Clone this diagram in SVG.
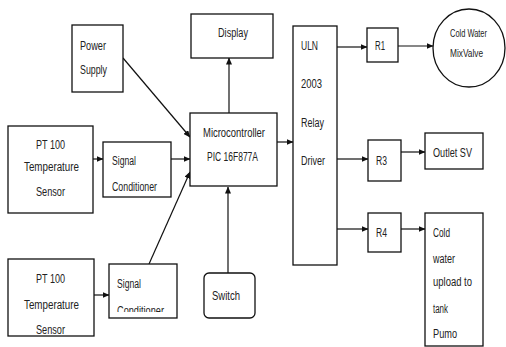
<svg xmlns="http://www.w3.org/2000/svg" width="506" height="347" viewBox="0 0 506 347">
<style>
.b{fill:#fff;stroke:#111;stroke-width:1.3}
.t{font-family:"Liberation Sans",Arial,sans-serif;font-size:12.5px;fill:#222}
.s{font-size:11px}
.l{fill:none;stroke:#111;stroke-width:1.2;marker-end:url(#a)}
</style>
<defs>
<marker id="a" markerWidth="7" markerHeight="6" refX="6.5" refY="3" orient="auto" markerUnits="userSpaceOnUse">
<path d="M0,0 L7,3 L0,6 Z" fill="#111"/>
</marker>
<clipPath id="c1"><rect x="100" y="140" width="75" height="52"/></clipPath>
<clipPath id="c2"><rect x="105" y="262" width="75" height="50"/></clipPath>
</defs>
<g id="connectors">
<line class="l" x1="123" y1="58" x2="190" y2="137"/>
<line class="l" x1="171" y1="159" x2="190" y2="159"/>
<line class="l" x1="149" y1="264" x2="190" y2="172"/>
<line class="l" x1="229" y1="113" x2="229" y2="58"/>
<line class="l" x1="228" y1="273" x2="228" y2="187"/>
<line class="l" x1="277" y1="142" x2="293" y2="142"/>
<line class="l" x1="93" y1="159" x2="103" y2="159"/>
<line class="l" x1="94" y1="295" x2="109" y2="295"/>
<line class="l" x1="337" y1="47" x2="367" y2="47"/>
<line class="l" x1="398" y1="46" x2="433" y2="46"/>
<line class="l" x1="337" y1="159" x2="368" y2="159"/>
<line class="l" x1="401" y1="152" x2="425" y2="152"/>
<line class="l" x1="337" y1="229" x2="368" y2="229"/>
<line class="l" x1="401" y1="229" x2="425" y2="229"/>
</g>
<g id="power">
<rect class="b" x="72" y="25" width="51" height="67"/>
<text class="t" x="80" y="50" textLength="26" lengthAdjust="spacingAndGlyphs">Power</text>
<text class="t" x="80" y="74" textLength="27" lengthAdjust="spacingAndGlyphs">Supply</text>
</g>
<g id="display">
<rect class="b" x="191" y="14" width="82" height="44"/>
<text class="t" x="218" y="37" textLength="30" lengthAdjust="spacingAndGlyphs">Display</text>
</g>
<g id="pt1">
<rect class="b" x="8" y="126" width="85" height="87"/>
<text class="t" x="36" y="149" textLength="29" lengthAdjust="spacingAndGlyphs">PT 100</text>
<text class="t" x="24" y="171" textLength="55" lengthAdjust="spacingAndGlyphs">Temperature</text>
<text class="t" x="36" y="196" textLength="29" lengthAdjust="spacingAndGlyphs">Sensor</text>
</g>
<g id="sc1">
<rect class="b" x="103" y="142" width="68" height="55"/>
<g clip-path="url(#c1)">
<text class="t" x="112" y="165" textLength="24" lengthAdjust="spacingAndGlyphs">Signal</text>
<text class="t" x="112" y="191" textLength="45" lengthAdjust="spacingAndGlyphs">Conditioner</text>
</g>
</g>
<g id="micro">
<rect class="b" x="190" y="113" width="87" height="73"/>
<text class="t" x="203" y="137" textLength="62" lengthAdjust="spacingAndGlyphs">Microcontroller</text>
<text class="t" x="207" y="161" textLength="51" lengthAdjust="spacingAndGlyphs">PIC 16F877A</text>
</g>
<g id="pt2">
<rect class="b" x="8" y="259" width="86" height="77"/>
<text class="t" x="36" y="283" textLength="29" lengthAdjust="spacingAndGlyphs">PT 100</text>
<text class="t" x="24" y="309" textLength="55" lengthAdjust="spacingAndGlyphs">Temperature</text>
<text class="t" x="36" y="334" textLength="29" lengthAdjust="spacingAndGlyphs">Sensor</text>
</g>
<g id="sc2">
<rect class="b" x="109" y="264" width="68" height="54"/>
<g clip-path="url(#c2)">
<text class="t" x="117" y="288" textLength="24" lengthAdjust="spacingAndGlyphs">Signal</text>
<text class="t" x="117" y="315" textLength="47" lengthAdjust="spacingAndGlyphs">Conditioner</text>
</g>
</g>
<g id="switch">
<rect class="b" x="204" y="273" width="51" height="45" rx="5"/>
<text class="t" x="212" y="300" textLength="28" lengthAdjust="spacingAndGlyphs">Switch</text>
</g>
<g id="uln">
<rect class="b" x="293" y="26" width="44" height="239"/>
<text class="t" x="301" y="50" textLength="17" lengthAdjust="spacingAndGlyphs">ULN</text>
<text class="t" x="301" y="88" textLength="21" lengthAdjust="spacingAndGlyphs">2003</text>
<text class="t" x="301" y="127" textLength="23" lengthAdjust="spacingAndGlyphs">Relay</text>
<text class="t" x="301" y="165" textLength="24" lengthAdjust="spacingAndGlyphs">Driver</text>
</g>
<g id="r1">
<rect class="b" x="367" y="28" width="31" height="34"/>
<text class="t" x="375" y="50" textLength="10" lengthAdjust="spacingAndGlyphs">R1</text>
</g>
<g id="valve">
<ellipse class="b" cx="469" cy="48" rx="36" ry="39"/>
<text class="t s" x="450" y="37" textLength="37" lengthAdjust="spacingAndGlyphs">Cold Water</text>
<text class="t s" x="450" y="57" textLength="33" lengthAdjust="spacingAndGlyphs">MixValve</text>
</g>
<g id="r3">
<rect class="b" x="368" y="140" width="33" height="41"/>
<text class="t" x="376" y="165" textLength="11" lengthAdjust="spacingAndGlyphs">R3</text>
</g>
<g id="outlet">
<rect class="b" x="425" y="133" width="58" height="36"/>
<text class="t" x="433" y="157" textLength="39" lengthAdjust="spacingAndGlyphs">Outlet  SV</text>
</g>
<g id="r4">
<rect class="b" x="368" y="213" width="33" height="39"/>
<text class="t" x="376" y="237" textLength="11" lengthAdjust="spacingAndGlyphs">R4</text>
</g>
<g id="pump">
<rect class="b" x="425" y="213" width="58" height="133"/>
<text class="t" x="433" y="237" textLength="17" lengthAdjust="spacingAndGlyphs">Cold</text>
<text class="t" x="433" y="263" textLength="22" lengthAdjust="spacingAndGlyphs">water</text>
<text class="t" x="433" y="286" textLength="39" lengthAdjust="spacingAndGlyphs">upload to</text>
<text class="t" x="433" y="313" textLength="15" lengthAdjust="spacingAndGlyphs">tank</text>
<text class="t" x="433" y="338" textLength="24" lengthAdjust="spacingAndGlyphs">Pumo</text>
</g>
</svg>
